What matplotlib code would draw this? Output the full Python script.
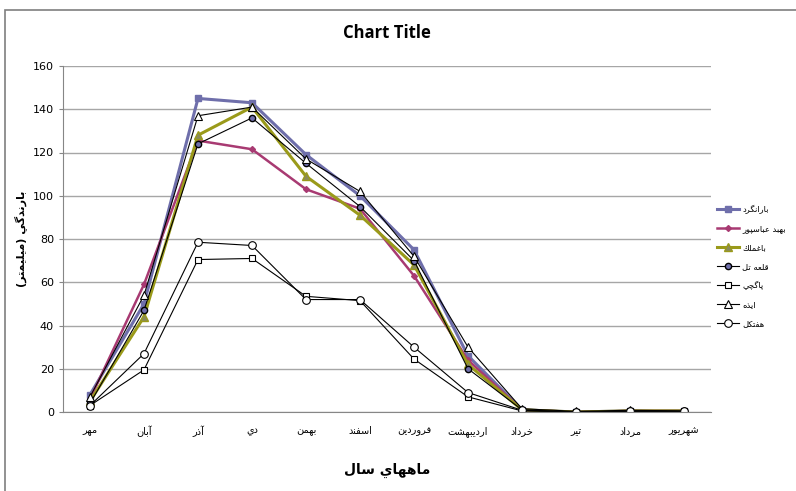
import matplotlib.pyplot as plt
from matplotlib.patches import Rectangle

# months (x categories)
months = ['مهر', 'آبان', 'آذر', 'دي', 'بهمن', 'اسفند', 'فروردين',
          'ارديبهشت', 'خرداد', 'تير', 'مرداد', 'شهريور']

# rainfall per station (mm)
baranegerd = [8, 50, 145, 143, 119, 100, 75, 26, 1, 0, 0.5, 0.5]
behbad = [6, 59, 125.5, 121.5, 103, 94, 63, 24, 1, 0, 0.5, 0.5]
baghmalek = [5, 44, 128, 141, 109, 91, 68, 22, 1, 0, 0.5, 0.5]
ghaleh_tol = [4, 47, 124, 136, 115, 95, 70, 20, 1, 0, 0.5, 0.3]
pagachi = [3, 19.5, 70.5, 71, 53.5, 51.5, 24.5, 7, 0.5, 0, 0.3, 0.3]
izeh = [7, 54, 137, 141, 117, 102, 72, 30, 1.5, 0.3, 0.8, 0.5]
haftkel = [3, 27, 78.5, 77, 52, 52, 30, 9, 0.8, 0, 0.3, 0.3]

station_names = ['بارانگرد', 'بهبد عباسپور', 'باغملك', 'قلعه تل', 'پاگچي', 'ايذه', 'هفتكل']

y_ticks = [0, 20, 40, 60, 80, 100, 120, 140, 160]

# --- tiny arabic shaper (matplotlib has no complex text layout) ---
# letter: (isolated, final, initial, medial); None for right-joining only
FORMS = {
    'آ': (0xFE81, 0xFE82, None, None), 'ا': (0xFE8D, 0xFE8E, None, None),
    'ب': (0xFE8F, 0xFE90, 0xFE91, 0xFE92), 'ت': (0xFE95, 0xFE96, 0xFE97, 0xFE98),
    'خ': (0xFEA5, 0xFEA6, 0xFEA7, 0xFEA8), 'د': (0xFEA9, 0xFEAA, None, None),
    'ذ': (0xFEAB, 0xFEAC, None, None), 'ر': (0xFEAD, 0xFEAE, None, None),
    'س': (0xFEB1, 0xFEB2, 0xFEB3, 0xFEB4), 'ش': (0xFEB5, 0xFEB6, 0xFEB7, 0xFEB8),
    'ع': (0xFEC9, 0xFECA, 0xFECB, 0xFECC), 'غ': (0xFECD, 0xFECE, 0xFECF, 0xFED0),
    'ف': (0xFED1, 0xFED2, 0xFED3, 0xFED4), 'ق': (0xFED5, 0xFED6, 0xFED7, 0xFED8),
    'ك': (0xFED9, 0xFEDA, 0xFEDB, 0xFEDC), 'ل': (0xFEDD, 0xFEDE, 0xFEDF, 0xFEE0),
    'م': (0xFEE1, 0xFEE2, 0xFEE3, 0xFEE4), 'ن': (0xFEE5, 0xFEE6, 0xFEE7, 0xFEE8),
    'ه': (0xFEE9, 0xFEEA, 0xFEEB, 0xFEEC), 'و': (0xFEED, 0xFEEE, None, None),
    'ي': (0xFEF1, 0xFEF2, 0xFEF3, 0xFEF4), 'پ': (0xFB56, 0xFB57, 0xFB58, 0xFB59),
    'چ': (0xFB7A, 0xFB7B, 0xFB7C, 0xFB7D), 'گ': (0xFB92, 0xFB93, 0xFB94, 0xFB95),
}
MIRROR = {'(': ')', ')': '('}


def shape(text):
    out = []
    for i, ch in enumerate(text):
        if ch not in FORMS:
            out.append(MIRROR.get(ch, ch))
            continue
        prev = text[i - 1] if i > 0 else ''
        nxt = text[i + 1] if i + 1 < len(text) else ''
        join_prev = prev in FORMS and FORMS[prev][2] is not None
        join_next = nxt in FORMS and FORMS[ch][2] is not None
        iso, fin, ini, med = FORMS[ch]
        if join_prev and join_next:
            code = med
        elif join_prev:
            code = fin
        elif join_next:
            code = ini
        else:
            code = iso
        out.append(chr(code))
    return ''.join(reversed(out))


plt.rcParams['font.family'] = ['DejaVu Sans']

fig = plt.figure(figsize=(7.96, 4.91), dpi=100)
ax = fig.add_axes([63 / 796, 1 - 412 / 491, 648 / 796, 346 / 491])

# outer chart frame
fig.patches.append(Rectangle((5 / 796, -0.05), 1.2, 1 - 10 / 491 + 0.05,
                             transform=fig.transFigure, fill=False,
                             edgecolor='#7f7f7f', linewidth=1.2))

x = list(range(len(months)))
series = [
    (baranegerd, dict(color='#6f6fab', marker='s', markersize=4.5, mfc='#6f6fab', mec='#6f6fab', lw=2.2)),
    (behbad, dict(color='#a83a72', marker='D', markersize=3, mfc='#a83a72', mec='#a83a72', lw=1.8)),
    (baghmalek, dict(color='#9a9a1a', marker='^', markersize=6, mfc='#8a8a5a', mec='#9a9a1a', lw=2.2)),
    (ghaleh_tol, dict(color='black', marker='o', markersize=4.5, mfc='#6f6fab', mec='black', lw=0.8)),
    (pagachi, dict(color='black', marker='s', markersize=4.5, mfc='white', mec='black', mew=0.8, lw=0.8)),
    (izeh, dict(color='black', marker='^', markersize=5.5, mfc='white', mec='black', mew=0.8, lw=0.8)),
    (haftkel, dict(color='black', marker='o', markersize=5.5, mfc='white', mec='black', mew=0.8, lw=0.8)),
]
for (vals, style), name in zip(series, station_names):
    ax.plot(x, vals, label=shape(name), **style)

ax.set_xlim(-0.5, len(months) - 0.5)
ax.set_ylim(0, 160)
ax.set_yticks(y_ticks)
ax.set_xticks(x)
ax.set_xticklabels([shape(m) for m in months], fontsize=7)
ax.tick_params(axis='y', labelsize=8, length=3, color='#868686')
ax.tick_params(axis='x', length=0, pad=10)
ax.grid(axis='y', color='#a6a6a6', linewidth=1)
ax.set_axisbelow(True)
for side in ['top', 'right']:
    ax.spines[side].set_visible(False)
ax.spines['left'].set_color('#868686')
ax.spines['bottom'].set_color('#868686')

ax.set_title('Chart Title', fontsize=12, fontweight='bold', pad=20, family=['Open Sans', 'DejaVu Sans'])
ax.set_ylabel(shape('بارندگي (ميليمتر)'), fontsize=8, fontweight='bold', labelpad=4)
ax.set_xlabel(shape('ماههاي سال'), fontsize=10, fontweight='bold', labelpad=18)

leg = ax.legend(loc='center left', bbox_to_anchor=(1.01, 0.42), frameon=False,
                fontsize=6, handlelength=2.6, labelspacing=1.2, borderpad=0,
                handletextpad=0.4, borderaxespad=0)

fig.savefig('out.png', dpi=100)
